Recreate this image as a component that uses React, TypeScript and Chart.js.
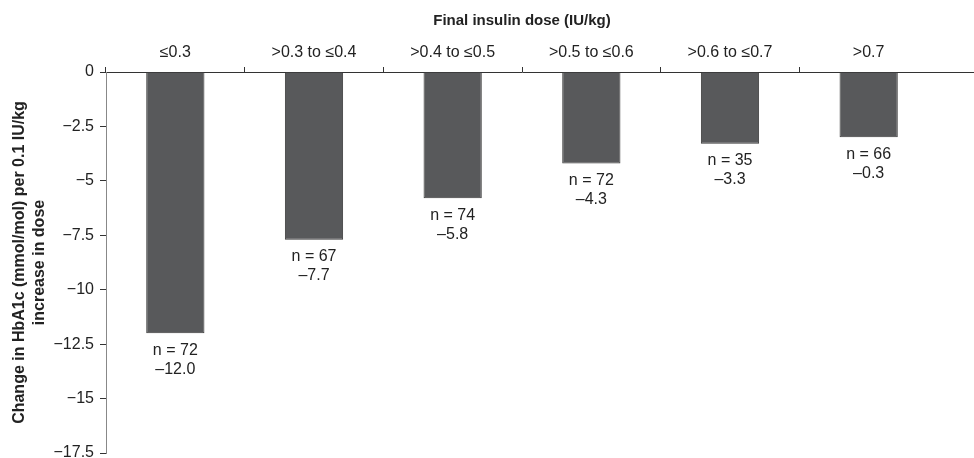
import React, { useEffect, useRef } from "react";
import { Chart, registerables } from "chart.js";

Chart.register(...registerables);

const categories = ["≤0.3", ">0.3 to ≤0.4", ">0.4 to ≤0.5", ">0.5 to ≤0.6", ">0.6 to ≤0.7", ">0.7"];
const barValues = [-12.0, -7.7, -5.8, -4.2, -3.3, -3.0];
const nLabels = ["n = 72", "n = 67", "n = 74", "n = 72", "n = 35", "n = 66"];
const valueLabels = ["\u201312.0", "\u20137.7", "\u20135.8", "\u20134.3", "\u20133.3", "\u20130.3"];
const xTitle = "Final insulin dose (IU/kg)";
const yTitle = ["Change in HbA1c (mmol/mol) per 0.1 IU/kg", "increase in dose"];

const FONT = "'Liberation Sans', Arial, Helvetica, sans-serif";
const TEXT = "#222";

const labelPlugin = {
  id: "barLabels",
  afterDatasetsDraw(chart: any) {
    const ctx = chart.ctx;
    const meta = chart.getDatasetMeta(0);
    ctx.save();
    ctx.font = `16px ${FONT}`;
    ctx.fillStyle = TEXT;
    ctx.textAlign = "center";
    ctx.textBaseline = "middle";
    meta.data.forEach((bar: any, i: number) => {
      ctx.fillText(nLabels[i], bar.x, bar.y + 17);
      ctx.fillText(valueLabels[i], bar.x, bar.y + 36);
    });
    ctx.restore();
  },
  afterDraw(chart: any) {
    const { ctx, chartArea, width } = chart;
    ctx.save();
    ctx.strokeStyle = "#333";
    ctx.lineWidth = 1;
    ctx.beginPath();
    ctx.moveTo(chartArea.right, chartArea.top + 0.5);
    ctx.lineTo(width, chartArea.top + 0.5);
    ctx.stroke();
    ctx.restore();
  },
};

export default function App() {
  const ref = useRef<HTMLCanvasElement>(null);
  useEffect(() => {
    if (!ref.current) return;
    const chart = new Chart(ref.current, {
      type: "bar",
      data: {
        labels: categories,
        datasets: [
          {
            data: barValues,
            backgroundColor: "#58595b",
            borderColor: "#3a3a3a",
            borderWidth: 1,
            barPercentage: 0.42,
            categoryPercentage: 1,
          },
        ],
      },
      options: {
        animation: false,
        responsive: false,
        maintainAspectRatio: false,
        layout: { padding: { left: 0, top: 0, right: 36, bottom: 5 } },
        plugins: { legend: { display: false }, tooltip: { enabled: false } },
        scales: {
          x: {
            position: "top",
            afterFit: (s: any) => {
              s.height = 72;
              s.paddingLeft = 0;
              s.paddingRight = 0;
            },
            grid: {
              drawOnChartArea: false,
              drawTicks: true,
              tickLength: 5,
              color: (c: any) => (c.type === "tick" ? "#333" : "rgba(0,0,0,0)"),
            },
            border: { display: true, color: "#333", width: 1 },
            ticks: {
              color: TEXT,
              font: { family: FONT, size: 16 },
              padding: 5,
              maxRotation: 0,
              autoSkip: false,
            },
            title: {
              display: true,
              text: xTitle,
              color: TEXT,
              font: { family: FONT, size: 15, weight: "bold" },
              padding: { top: 12, bottom: 0 },
            },
          },
          y: {
            min: -17.5,
            max: 0,
            afterFit: (s: any) => {
              s.width = 106;
              s.paddingTop = 0;
              s.paddingBottom = 0;
            },
            grid: {
              drawOnChartArea: false,
              drawTicks: true,
              tickLength: 6,
              color: "#333",
            },
            border: { display: true, color: "#888", width: 1 },
            ticks: {
              stepSize: 2.5,
              color: TEXT,
              font: { family: FONT, size: 16 },
              padding: 6,
              callback: (v: any) => (Number(v) === 0 ? "0" : "\u2212" + Math.abs(Number(v))),
            },
            title: {
              display: true,
              text: yTitle,
              color: TEXT,
              font: { family: FONT, size: 16, weight: "bold", lineHeight: 1.25 },
              padding: { top: 10, bottom: 0 },
            },
          },
        },
      },
      plugins: [labelPlugin],
    });
    return () => chart.destroy();
  }, []);
  return (
    <div style={{ position: "fixed", left: 0, top: 0, width: 974, height: 458, background: "#fff" }}>
      <canvas ref={ref} width={974} height={458} style={{ width: 974, height: 458 }} />
    </div>
  );
}
